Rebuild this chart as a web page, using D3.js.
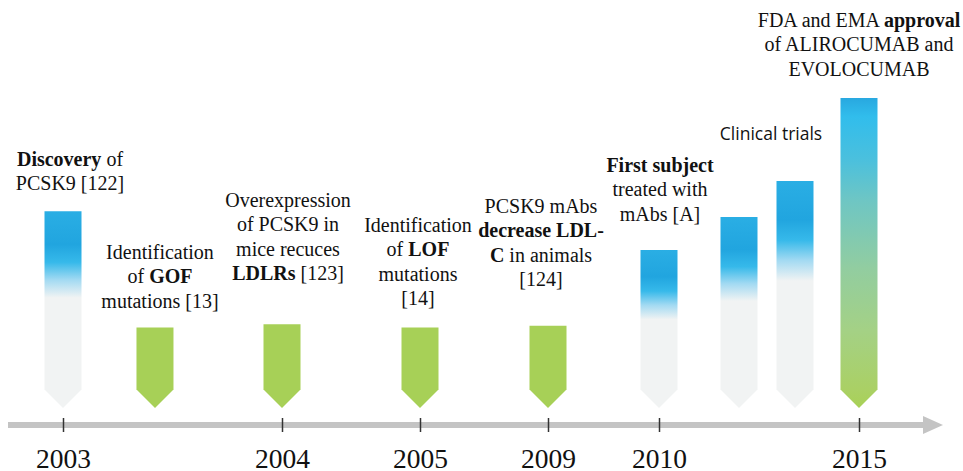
<!DOCTYPE html>
<html>
<head>
<meta charset="utf-8">
<script src="https://cdn.jsdelivr.net/npm/d3@7"></script>
<style>
  body { margin: 0; background: #fff; }
  svg { display: block; }
</style>
</head>
<body>
<div id="pcsk9Timeline"></div>
<script>
// timeline years shown under the axis
var years = [2003, 2004, 2005, 2009, 2010, 2015];

// one arrow per event: where it sits on the timeline, how tall it is, how it is coloured
var eventNames = ["Discovery", "GOF", "LDLR", "LOF", "mAbs animals", "First subject", "Trial 1", "Trial 2", "Approval"];
var eventYear = [2003, 2003.42, 2004, 2005, 2009, 2010, 2012, 2013.4, 2015];
var eventLevel = [63.5, 26, 27, 26, 26.5, 51, 61.6, 73.2, 100];
var eventKind = ["blue", "green", "green", "green", "green", "blue", "blue", "blue", "final"];

// notes above the arrows, ** marks bold, | breaks the line
var noteText = [
  "**Discovery** of|PCSK9 [122]",
  "Identification|of **GOF**|mutations [13]",
  "Overexpression|of PCSK9 in|mice recuces|**LDLRs** [123]",
  "Identification|of **LOF**|mutations|[14]",
  "PCSK9 mAbs|**decrease LDL-**|**C** in animals|[124]",
  "**First subject**|treated with|mAbs [A]",
  "Clinical trials",
  "FDA and EMA **approval**|of ALIROCUMAB and|EVOLOCUMAB"
];
var noteYear = [2003, 2003.42, 2004, 2005, 2009, 2010, 2012.8, 2015];

// layout only (offsets of the notes and first baselines)
var noteDx = [7, 5, 6, -2, -7, 1, 0, 0];
var noteY = [166, 259, 207, 232, 213, 172, 140, 27];
var noteSans = [false, false, false, false, false, false, true, false];

var serifFont = "Liberation Serif, Times New Roman, serif";
var sansFont = "Open Sans, sans-serif";

var width = 963;
var height = 471;
var arrowW = 37;
var lineH = 24.3;

var svg = d3.select("#pcsk9Timeline")
            .append("svg")
            .attr("width", width)
            .attr("height", height);

// broken timeline: the years are not evenly spaced
var x = d3.scaleLinear()
    .domain(years)
    .range([63, 282, 420, 548, 659, 859]);

var y = d3.scaleLinear()
    .domain([0, 100])
    .range([408, 98]);

// gradients
var defs = svg.append("defs");

var blueGrad = defs.append("linearGradient")
    .attr("id", "gradBlue")
    .attr("x1", 0).attr("y1", 0).attr("x2", 0).attr("y2", 1);
[[0, "#2aaee4"], [0.17, "#21a5df"], [0.26, "#36b9ea"], [0.35, "#a3daf2"], [0.44, "#f1f3f3"], [1, "#f1f3f3"]]
  .forEach(function(s){ blueGrad.append("stop").attr("offset", s[0]).attr("stop-color", s[1]); });

var finalGrad = defs.append("linearGradient")
    .attr("id", "gradFinal")
    .attr("x1", 0).attr("y1", 0).attr("x2", 0).attr("y2", 1);
[[0, "#28a8e0"], [0.06, "#31bdec"], [0.2, "#4bc0dd"], [0.33, "#6ec6c4"], [0.55, "#92cda0"], [0.75, "#a4d185"], [0.94, "#aad065"], [1, "#a8d156"]]
  .forEach(function(s){ finalGrad.append("stop").attr("offset", s[0]).attr("stop-color", s[1]); });

var fillFor = {"blue": "url(#gradBlue)", "green": "#a7d057", "final": "url(#gradFinal)"};

// the gray time line with its arrow head
var axisY = 425;
svg.append("line")
   .attr("x1", 8)
   .attr("x2", 924)
   .attr("y1", axisY)
   .attr("y2", axisY)
   .attr("stroke", "#c4c4c4")
   .attr("stroke-width", 6);

svg.append("path")
   .attr("d", "M923," + (axisY - 9) + "L943," + axisY + "L923," + (axisY + 9) + "Z")
   .attr("fill", "#c4c4c4");

// ticks and year labels
var axis = svg.append("g")
    .attr("transform", "translate(0," + (axisY - 7) + ")")
    .call(d3.axisBottom(x)
            .tickValues(years)
            .tickFormat(function(d){ return d; })
            .tickSize(14)
            .tickPadding(16));

axis.attr("font-family", serifFont).attr("font-size", 27.5);
axis.select(".domain").remove();
axis.selectAll(".tick line")
    .attr("stroke", "#333")
    .attr("stroke-width", 1.5);
axis.selectAll(".tick text")
    .attr("fill", "#111");

// the arrows
function arrowPath(i){
  var cx = x(eventYear[i]);
  var top = y(eventLevel[i]);
  var tip = y(0);
  var shoulder = tip - arrowW / 2;
  return "M" + (cx - arrowW / 2) + "," + top +
         "L" + (cx + arrowW / 2) + "," + top +
         "L" + (cx + arrowW / 2) + "," + shoulder +
         "L" + cx + "," + tip +
         "L" + (cx - arrowW / 2) + "," + shoulder + "Z";
}

svg.selectAll("path.event")
   .data(eventNames)
   .enter()
   .append("path")
   .attr("class", "event")
   .attr("d", function(d, i){ return arrowPath(i); })
   .attr("fill", function(d, i){ return fillFor[eventKind[i]]; });

// notes
noteText.forEach(function(txt, i){
  var t = svg.append("text")
      .attr("text-anchor", "middle")
      .attr("fill", "#111")
      .attr("font-family", noteSans[i] ? sansFont : serifFont)
      .attr("font-size", noteSans[i] ? 17.5 : 20);
  var cx = x(noteYear[i]) + noteDx[i];
  txt.split("|").forEach(function(line, j){
    var parts = line.split("**");
    parts.forEach(function(p, k){
      if (p === "") return;
      var ts = t.append("tspan")
                .text(p)
                .attr("font-weight", k % 2 === 1 ? "bold" : "normal");
      // first piece of each line starts a new row
      if (k === 0 || (k === 1 && parts[0] === "")) {
        ts.attr("x", cx).attr("y", noteY[i] + j * lineH);
      }
    });
  });
});
</script>
</body>
</html>
